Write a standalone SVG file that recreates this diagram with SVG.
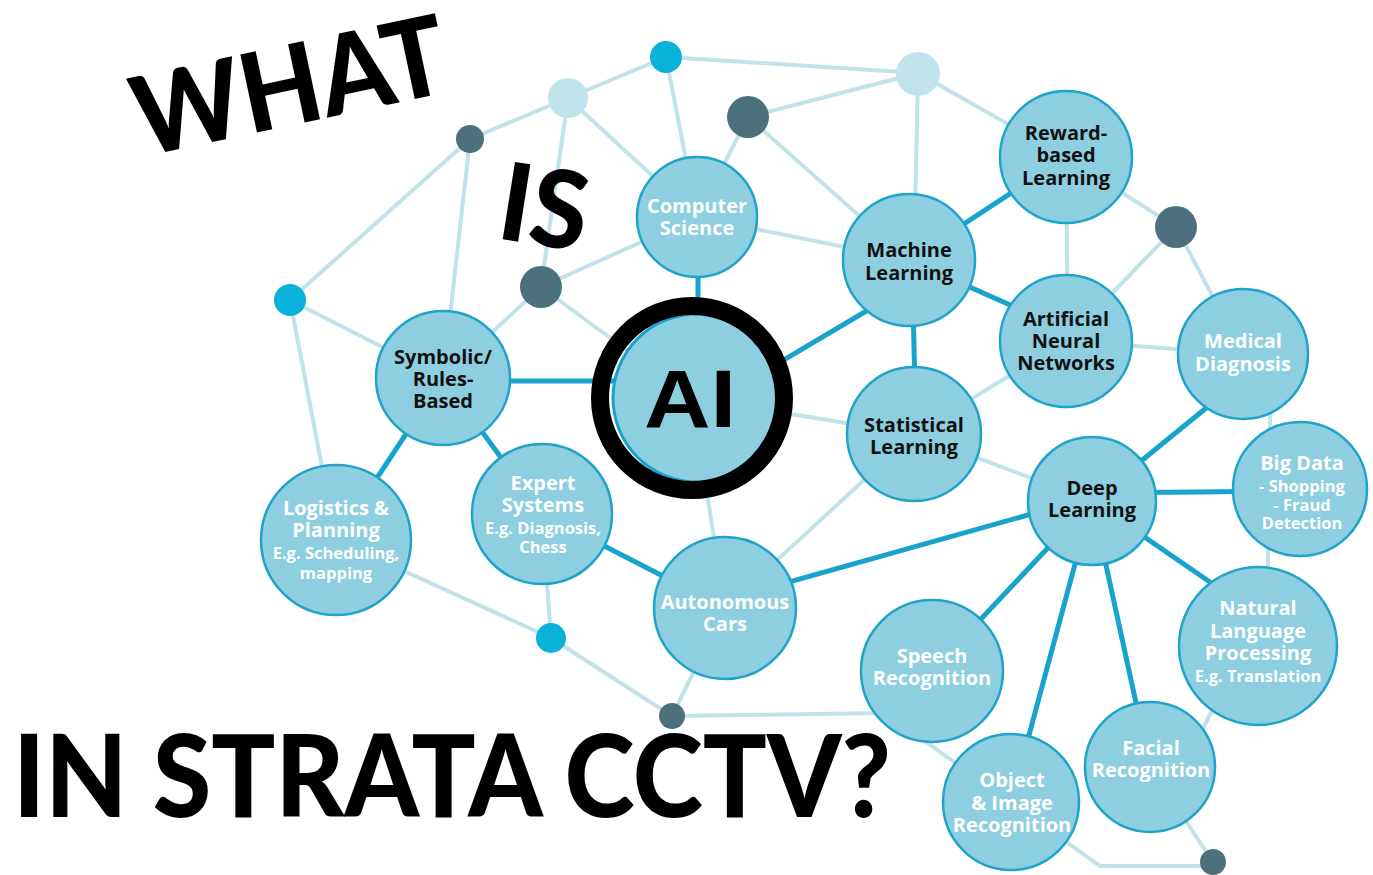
<svg xmlns="http://www.w3.org/2000/svg" width="1373" height="875" viewBox="0 0 1373 875">
<style>
.l{stroke:#c2e2ea;stroke-width:4;fill:none;stroke-linecap:round}
.t{stroke:#17a3cb;stroke-width:5;fill:none;stroke-linecap:round}
.n{fill:#8dcfe0;stroke:#1fa3c8;stroke-width:2.5}
.dc{fill:#0ab1d9}
.dl{fill:#c0e3eb}
.dd{fill:#4d717c}
text{font-family:"Open Sans","DejaVu Sans",sans-serif;font-weight:700;text-anchor:middle;font-size:20px}
.w{fill:#ffffff}
.k{fill:#111111}
.s{font-size:16.5px}
text.big{font-family:Lato,"Open Sans",sans-serif;font-weight:900;fill:#000;text-anchor:start}
text.b1{font-size:110px}
text.b2{font-size:108px}
text.b3{font-size:115px}
</style>
<rect width="1373" height="875" fill="#ffffff"/>
<g id="connectors">
<line class="l" x1="470" y1="139" x2="568" y2="98"/>
<line class="l" x1="568" y1="98" x2="666" y2="57"/>
<line class="l" x1="666" y1="57" x2="918" y2="73"/>
<line class="l" x1="470" y1="139" x2="290" y2="300"/>
<line class="l" x1="470" y1="139" x2="443" y2="378"/>
<line class="l" x1="568" y1="98" x2="541" y2="287"/>
<line class="l" x1="568" y1="98" x2="697" y2="217"/>
<line class="l" x1="666" y1="57" x2="697" y2="217"/>
<line class="l" x1="541" y1="287" x2="697" y2="217"/>
<line class="l" x1="541" y1="287" x2="443" y2="378"/>
<line class="l" x1="541" y1="287" x2="692" y2="398"/>
<line class="l" x1="290" y1="300" x2="443" y2="378"/>
<line class="l" x1="290" y1="300" x2="336" y2="540"/>
<line class="l" x1="336" y1="540" x2="551" y2="638"/>
<line class="l" x1="542" y1="514" x2="551" y2="638"/>
<line class="l" x1="551" y1="638" x2="672" y2="716"/>
<line class="l" x1="725" y1="608" x2="672" y2="716"/>
<line class="l" x1="672" y1="716" x2="885" y2="713"/>
<line class="l" x1="692" y1="398" x2="725" y2="608"/>
<line class="l" x1="725" y1="608" x2="914" y2="434"/>
<line class="l" x1="692" y1="398" x2="914" y2="434"/>
<line class="l" x1="697" y1="217" x2="909" y2="260"/>
<line class="l" x1="748" y1="117" x2="918" y2="73"/>
<line class="l" x1="748" y1="117" x2="697" y2="217"/>
<line class="l" x1="748" y1="117" x2="909" y2="260"/>
<line class="l" x1="918" y1="73" x2="914" y2="260"/>
<line class="l" x1="918" y1="73" x2="1066" y2="157"/>
<line class="l" x1="1066" y1="157" x2="1176" y2="227"/>
<line class="l" x1="1066" y1="157" x2="1068" y2="341"/>
<line class="l" x1="1176" y1="227" x2="1066" y2="341"/>
<line class="l" x1="1176" y1="227" x2="1243" y2="354"/>
<line class="l" x1="1066" y1="341" x2="1243" y2="354"/>
<line class="l" x1="1066" y1="341" x2="914" y2="434"/>
<line class="l" x1="914" y1="434" x2="1092" y2="501"/>
<line class="l" x1="1270" y1="395" x2="1270" y2="435"/>
<line class="l" x1="1268" y1="540" x2="1268" y2="585"/>
<line class="l" x1="1222" y1="690" x2="1195" y2="745"/>
<line class="l" x1="1150" y1="767" x2="1213" y2="862"/>
<polyline class="l" points="926,742 1100,866 1213,866"/>
<line class="t" x1="443" y1="381" x2="692" y2="381"/>
<line class="t" x1="443" y1="378" x2="336" y2="540"/>
<line class="t" x1="443" y1="378" x2="542" y2="514"/>
<line class="t" x1="542" y1="514" x2="725" y2="608"/>
<line class="t" x1="725" y1="600" x2="1092" y2="497"/>
<line class="t" x1="760" y1="374" x2="895" y2="294"/>
<line class="t" x1="698" y1="217" x2="698" y2="320"/>
<line class="t" x1="909" y1="260" x2="1066" y2="157"/>
<line class="t" x1="909" y1="260" x2="1066" y2="330"/>
<line class="t" x1="912" y1="260" x2="916" y2="434"/>
<line class="t" x1="1092" y1="501" x2="1243" y2="378"/>
<line class="t" x1="1092" y1="493" x2="1300" y2="491"/>
<line class="t" x1="1092" y1="501" x2="1258" y2="615"/>
<line class="t" x1="1092" y1="501" x2="932" y2="671"/>
<line class="t" x1="1092" y1="501" x2="1011" y2="802"/>
<line class="t" x1="1092" y1="501" x2="1150" y2="767"/>
</g>
<g id="dots">
<circle class="dc" cx="666" cy="57" r="16"/>
<circle class="dl" cx="568" cy="98" r="20"/>
<circle class="dl" cx="918" cy="74" r="22"/>
<circle class="dd" cx="748" cy="117" r="21"/>
<circle class="dd" cx="470" cy="139" r="14"/>
<circle class="dc" cx="290" cy="300" r="16"/>
<circle class="dd" cx="541" cy="287" r="21"/>
<circle class="dd" cx="1176" cy="227" r="21"/>
<circle class="dc" cx="551" cy="638" r="15"/>
<circle class="dd" cx="672" cy="716" r="13"/>
<circle class="dd" cx="1213" cy="862" r="13"/>
</g>
<g id="cs"><circle class="n" cx="697" cy="217" r="60"/><text class="w"><tspan x="697" y="213">Computer</tspan><tspan x="697" y="235">Science</tspan></text></g>
<g id="ml"><circle class="n" cx="909" cy="260" r="66"/><text class="k"><tspan x="909" y="257">Machine</tspan><tspan x="909" y="280">Learning</tspan></text></g>
<g id="reward"><circle class="n" cx="1066" cy="157" r="66"/><text class="k"><tspan x="1066" y="140">Reward-</tspan><tspan x="1066" y="162">based</tspan><tspan x="1066" y="185">Learning</tspan></text></g>
<g id="ann"><circle class="n" cx="1066" cy="341" r="66"/><text class="k"><tspan x="1066" y="326">Artificial</tspan><tspan x="1066" y="348">Neural</tspan><tspan x="1066" y="370">Networks</tspan></text></g>
<g id="medical"><circle class="n" cx="1243" cy="354" r="65"/><text class="w"><tspan x="1243" y="348">Medical</tspan><tspan x="1243" y="371">Diagnosis</tspan></text></g>
<g id="statistical"><circle class="n" cx="914" cy="434" r="67"/><text class="k"><tspan x="914" y="432">Statistical</tspan><tspan x="914" y="454">Learning</tspan></text></g>
<g id="symbolic"><circle class="n" cx="443" cy="378" r="67"/><text class="k"><tspan x="443" y="364">Symbolic/</tspan><tspan x="443" y="386">Rules-</tspan><tspan x="443" y="408">Based</tspan></text></g>
<g id="expert"><circle class="n" cx="542" cy="514" r="70"/><text class="w"><tspan x="543" y="490">Expert</tspan><tspan x="543" y="512">Systems</tspan><tspan class="s" x="543" y="534">E.g. Diagnosis,</tspan><tspan class="s" x="543" y="553">Chess</tspan></text></g>
<g id="logistics"><circle class="n" cx="336" cy="540" r="75"/><text class="w"><tspan x="336" y="515">Logistics &amp;</tspan><tspan x="336" y="537">Planning</tspan><tspan class="s" x="336" y="559">E.g. Scheduling,</tspan><tspan class="s" x="336" y="579">mapping</tspan></text></g>
<g id="autonomous"><circle class="n" cx="725" cy="608" r="71"/><text class="w"><tspan x="725" y="609">Autonomous</tspan><tspan x="725" y="631">Cars</tspan></text></g>
<g id="deep"><circle class="n" cx="1092" cy="501" r="64"/><text class="k"><tspan x="1092" y="495">Deep</tspan><tspan x="1092" y="517">Learning</tspan></text></g>
<g id="bigdata"><circle class="n" cx="1300" cy="489" r="67"/><text class="w"><tspan x="1302" y="470">Big Data</tspan><tspan class="s" x="1302" y="492">- Shopping</tspan><tspan class="s" x="1302" y="511">- Fraud</tspan><tspan class="s" x="1302" y="529">Detection</tspan></text></g>
<g id="nlp"><circle class="n" cx="1258" cy="646" r="79"/><text class="w"><tspan x="1258" y="615">Natural</tspan><tspan x="1258" y="638">Language</tspan><tspan x="1258" y="660">Processing</tspan><tspan class="s" x="1258" y="682">E.g. Translation</tspan></text></g>
<g id="speech"><circle class="n" cx="932" cy="671" r="71"/><text class="w"><tspan x="932" y="663">Speech</tspan><tspan x="932" y="685">Recognition</tspan></text></g>
<g id="object"><circle class="n" cx="1011" cy="802" r="68"/><text class="w"><tspan x="1012" y="787">Object</tspan><tspan x="1012" y="810">&amp; Image</tspan><tspan x="1012" y="832">Recognition</tspan></text></g>
<g id="facial"><circle class="n" cx="1150" cy="767" r="65"/><text class="w"><tspan x="1151" y="755">Facial</tspan><tspan x="1151" y="777">Recognition</tspan></text></g>
<g id="ai">
<circle cx="697" cy="398" r="84" fill="#8dcfe0" stroke="#17a3cb" stroke-width="3"/>
<circle cx="692" cy="398" r="92" fill="none" stroke="#000" stroke-width="18"/>
<text x="690" y="427" style="font-family:'Liberation Sans',Arial,sans-serif;font-weight:700;font-size:82px;fill:#000" textLength="92" lengthAdjust="spacingAndGlyphs">AI</text>
</g>
<g id="title">
<text class="big b1" x="142" y="157" transform="rotate(-12 142 157)" textLength="318" lengthAdjust="spacingAndGlyphs">WHAT</text>
<text class="big b2" x="495" y="238" transform="rotate(9 495 238)" textLength="88" lengthAdjust="spacingAndGlyphs">IS</text>
<text class="big b3" x="13" y="817" textLength="878" lengthAdjust="spacingAndGlyphs">IN STRATA CCTV?</text>
</g>
</svg>
